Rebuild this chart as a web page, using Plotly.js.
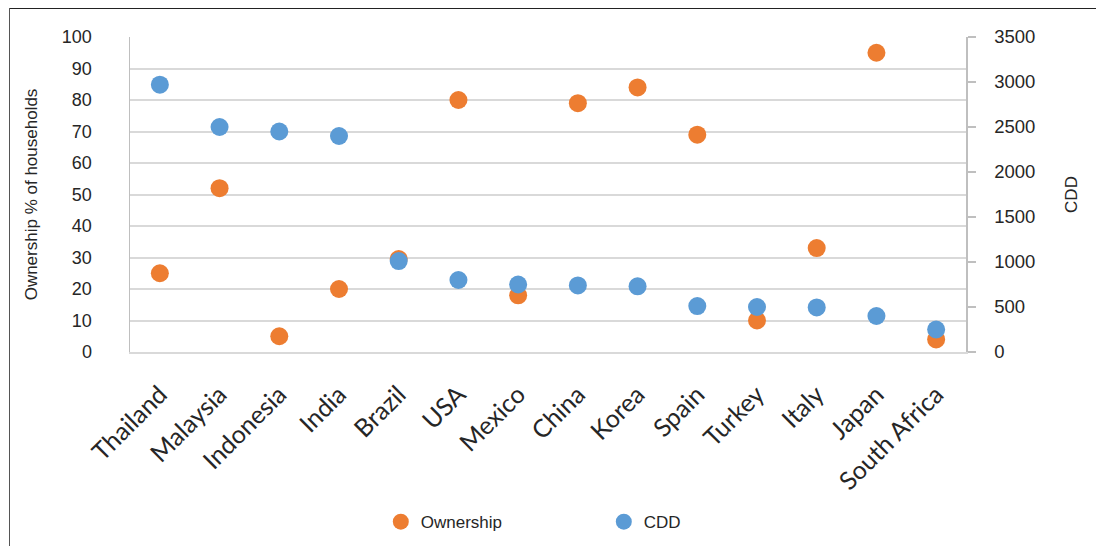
<!DOCTYPE html>
<html>
<head>
<meta charset="utf-8">
<script src="https://cdn.plot.ly/plotly-3.0.1.min.js"></script>
<style>
  html, body { margin: 0; padding: 0; background: #fff; }
  #wrap { position: relative; width: 1096px; height: 546px; overflow: hidden; }
  #chart { position: absolute; left: 0; top: 0; width: 1096px; height: 546px; }
  .frameTop { position: absolute; left: 9px; top: 8px; width: 1087px; height: 1px; background: #222; }
  .frameLeft { position: absolute; left: 9px; top: 8px; width: 1px; height: 538px; background: #555; }
</style>
</head>
<body>
<div id="wrap">
  <div id="chart"></div>
  <div class="frameTop"></div>
  <div class="frameLeft"></div>
</div>
<script>
const countries = ["Thailand", "Malaysia", "Indonesia", "India", "Brazil", "USA", "Mexico", "China", "Korea", "Spain", "Turkey", "Italy", "Japan", "South Africa"];
const ownership = [25, 52, 5, 20, 29.5, 80, 18, 79, 84, 69, 10, 33, 95, 4];
const cdd = [2970, 2500, 2450, 2400, 1010, 800, 750, 740, 730, 510, 500, 495, 400, 250];
const leftTicks = [0, 10, 20, 30, 40, 50, 60, 70, 80, 90, 100];
const rightTicks = [0, 500, 1000, 1500, 2000, 2500, 3000, 3500];

const orange = "#ED7D31";
const blue = "#5B9BD5";
const textCol = "#262626";

const traces = [
  {
    type: "scatter", mode: "markers", name: "Ownership",
    x: countries, y: ownership, yaxis: "y",
    marker: { color: orange, size: 18 }
  },
  {
    type: "scatter", mode: "markers", name: "CDD",
    x: countries, y: cdd, yaxis: "y2",
    marker: { color: blue, size: 18 }
  }
];

const layout = {
  width: 1096, height: 546,
  margin: { l: 130, r: 130, t: 37, b: 194, autoexpand: false },
  paper_bgcolor: "#ffffff", plot_bgcolor: "#ffffff",
  font: { family: "Liberation Sans, Arial, sans-serif", color: textCol, size: 18 },
  showlegend: true,
  legend: {
    orientation: "h", x: 0.3, xanchor: "left", y: -0.54, yanchor: "middle",
    entrywidth: 178, entrywidthmode: "pixels",
    font: { size: 17, color: textCol }, itemsizing: "trace"
  },
  xaxis: {
    type: "category", range: [-0.5, 13.5], automargin: false,
    tickangle: -45, tickfont: { family: "Lato, sans-serif", size: 25, color: textCol },
    showgrid: false, showline: true, linecolor: "#D9D9D9", linewidth: 2,
    ticks: "", zeroline: false, ticklabelstandoff: 16
  },
  yaxis: {
    range: [0, 100], tickvals: leftTicks, ticktext: leftTicks.map(String), automargin: false,
    tickfont: { size: 18, color: textCol },
    showgrid: true, gridcolor: "#D9D9D9", gridwidth: 2,
    showline: true, linecolor: "#BFBFBF", linewidth: 1.5,
    ticks: "", zeroline: false, ticklabelstandoff: 33,
    title: { text: "Ownership % of households", font: { size: 17, color: textCol }, standoff: 20 }
  },
  yaxis2: {
    overlaying: "y", side: "right", range: [0, 3500], automargin: false,
    tickvals: rightTicks, ticktext: rightTicks.map(String),
    tickfont: { size: 18.5, color: textCol },
    showgrid: false, showline: true, linecolor: "#BFBFBF", linewidth: 1.5,
    ticks: "outside", ticklen: 8, tickcolor: "#BFBFBF", tickwidth: 1.5,
    zeroline: false, ticklabelstandoff: 15,
    title: { text: "CDD", font: { size: 17, color: textCol }, standoff: 30 }
  }
};

Plotly.newPlot("chart", traces, layout, { displayModeBar: false, staticPlot: true });
</script>
</body>
</html>
